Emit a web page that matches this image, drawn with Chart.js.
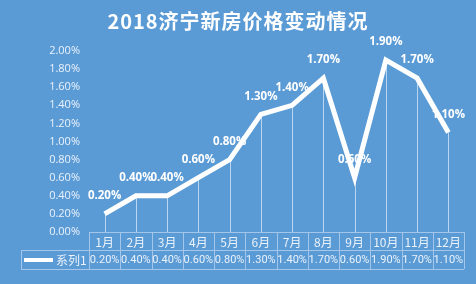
<!DOCTYPE html>
<html>
<head>
<meta charset="utf-8">
<script src="https://cdn.jsdelivr.net/npm/chart.js@4/dist/chart.umd.min.js"></script>
<style>
  html, body { margin: 0; padding: 0; background: #5b9bd5; }
  #wrap { width: 476px; height: 284px; }
</style>
</head>
<body>
<div id="wrap"><canvas id="priceChart" width="476" height="284"></canvas></div>
<script>
const chartTitle = "2018济宁新房价格变动情况";
const months = ["1月", "2月", "3月", "4月", "5月", "6月", "7月", "8月", "9月", "10月", "11月", "12月"];
const seriesName = "系列1";
const changes = [0.2, 0.4, 0.4, 0.6, 0.8, 1.3, 1.4, 1.7, 0.6, 1.9, 1.7, 1.1];
const yTicks = { min: 0, max: 2, step: 0.2 };

const fmt = (v) => v.toFixed(2) + "%";
const textColor = "#eaf2fb";
const cellLine = "#a3c6ea";

// title, drop lines, value labels and the data table under the plot
const extras = {
  id: "extras",
  beforeDatasetsDraw(chart) {
    const { ctx, chartArea } = chart;
    const meta = chart.getDatasetMeta(0);
    ctx.save();
    ctx.strokeStyle = "rgba(215,232,250,0.75)";
    ctx.lineWidth = 1;
    meta.data.forEach((pt) => {
      const x = Math.round(pt.x) + 0.5;
      ctx.beginPath();
      ctx.moveTo(x, pt.y);
      ctx.lineTo(x, chartArea.bottom);
      ctx.stroke();
    });
    ctx.restore();
  },
  afterDraw(chart) {
    const { ctx, chartArea } = chart;
    const xs = chart.scales.x;
    const meta = chart.getDatasetMeta(0);
    ctx.save();

    ctx.fillStyle = "#ffffff";
    ctx.textAlign = "center";
    ctx.textBaseline = "middle";
    ctx.font = "bold 20px 'Noto Sans CJK SC'";
    ctx.letterSpacing = "1px";
    ctx.fillText(chartTitle, 238, 21);
    ctx.letterSpacing = "0px";

    ctx.font = "bold 11.5px 'Open Sans'";
    meta.data.forEach((pt, i) => {
      ctx.fillText(fmt(changes[i]), pt.x, pt.y - 18);
    });

    // data table
    const left = chartArea.left, right = chartArea.right;
    const top = chartArea.bottom, mid = top + 18, bot = mid + 19;
    const legendLeft = 21;
    const band = (right - left) / months.length;
    ctx.strokeStyle = cellLine;
    ctx.lineWidth = 1;
    ctx.beginPath();
    ctx.moveTo(left, top + 0.5); ctx.lineTo(right, top + 0.5);
    ctx.moveTo(legendLeft, mid + 0.5); ctx.lineTo(right, mid + 0.5);
    ctx.moveTo(legendLeft, bot + 0.5); ctx.lineTo(right, bot + 0.5);
    ctx.moveTo(legendLeft + 0.5, mid); ctx.lineTo(legendLeft + 0.5, bot);
    for (let i = 0; i <= months.length; i++) {
      const x = Math.round(xs.getPixelForValue(i) - band / 2) + 0.5;
      ctx.moveTo(x, top); ctx.lineTo(x, bot);
    }
    ctx.stroke();

    ctx.fillStyle = textColor;
    ctx.font = "12px 'Noto Sans CJK SC'";
    months.forEach((m, i) => ctx.fillText(m, xs.getPixelForValue(i), (top + mid) / 2 + 1));
    ctx.font = "11px Roboto";
    changes.forEach((v, i) => ctx.fillText(fmt(v), xs.getPixelForValue(i), (mid + bot) / 2 + 1));

    ctx.strokeStyle = "#ffffff";
    ctx.lineWidth = 4;
    ctx.beginPath();
    ctx.moveTo(24, (mid + bot) / 2 + 0.5); ctx.lineTo(53, (mid + bot) / 2 + 0.5);
    ctx.stroke();
    ctx.textAlign = "left";
    ctx.font = "12px 'Noto Sans CJK SC'";
    ctx.fillText(seriesName, 56, (mid + bot) / 2 + 1);
    ctx.restore();
  }
};

new Chart(document.getElementById("priceChart").getContext("2d"), {
  type: "line",
  data: {
    labels: months,
    datasets: [{
      label: seriesName,
      data: changes,
      borderColor: "#ffffff",
      borderWidth: 5,
      pointRadius: 0,
      tension: 0
    }]
  },
  options: {
    responsive: false,
    animation: false,
    layout: { padding: { top: 51, right: 12, bottom: 52, left: 0 } },
    plugins: { legend: { display: false }, title: { display: false }, tooltip: { enabled: false } },
    scales: {
      x: { display: false, offset: true },
      y: {
        min: yTicks.min,
        max: yTicks.max,
        afterFit: (s) => { s.width = 89; },
        grid: { display: false, drawTicks: false },
        border: { display: false },
        ticks: {
          stepSize: yTicks.step,
          padding: 9,
          color: textColor,
          font: { family: "'Open Sans'", size: 11 },
          callback: (v) => fmt(v)
        }
      }
    }
  },
  plugins: [extras]
});
</script>
</body>
</html>
